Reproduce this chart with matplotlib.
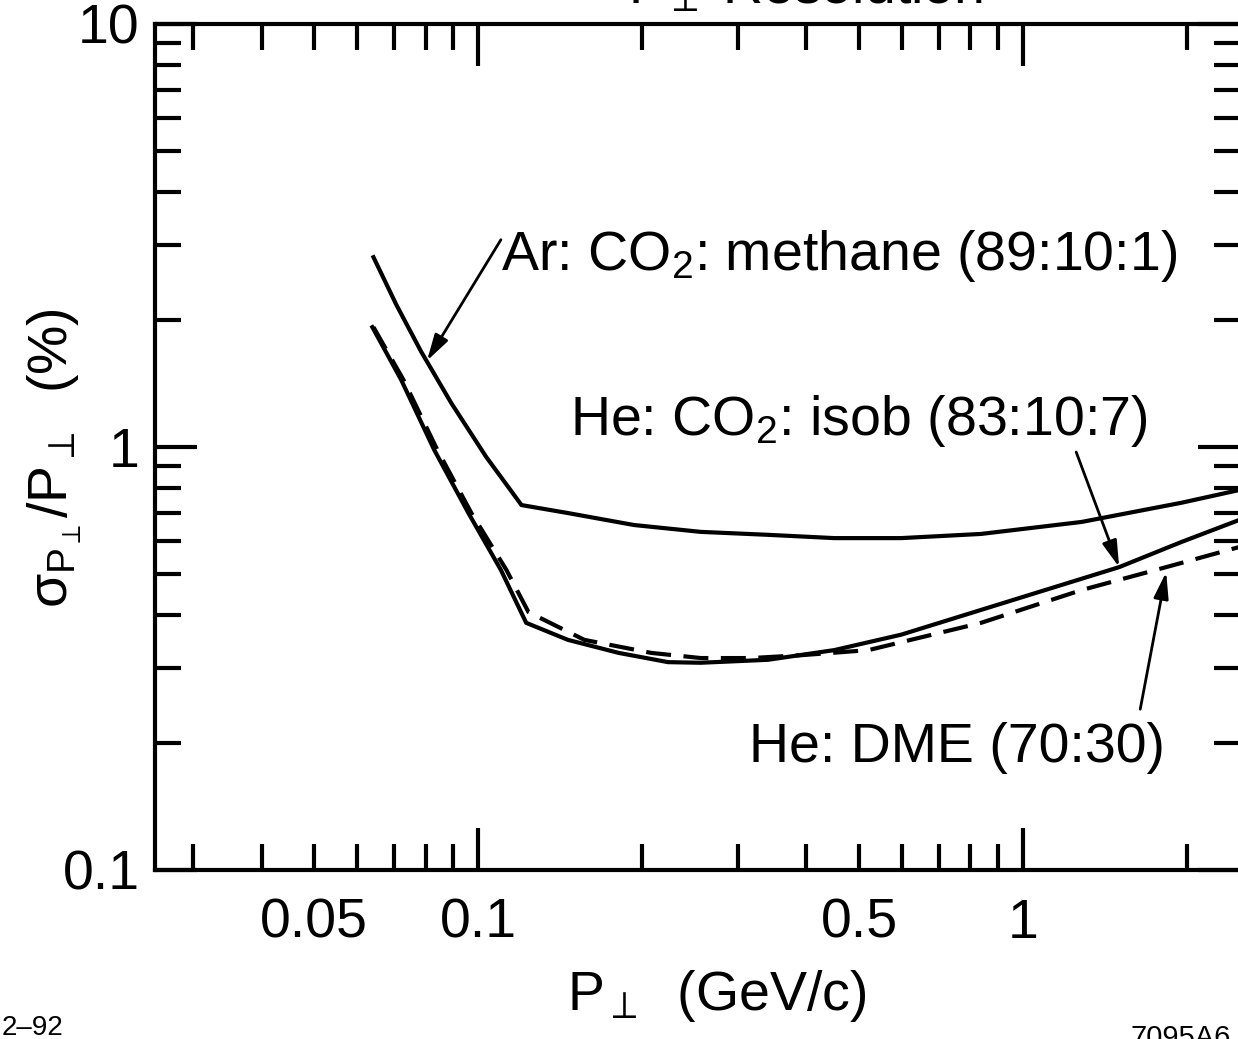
import matplotlib
matplotlib.use("Agg")
import matplotlib.pyplot as plt
from matplotlib.ticker import FixedLocator, FuncFormatter

plt.rcParams["font.family"] = ["Liberation Sans", "DejaVu Sans"]
plt.rcParams["mathtext.fontset"] = "custom"
plt.rcParams["mathtext.rm"] = "Liberation Sans"
plt.rcParams["mathtext.it"] = "Liberation Sans"
plt.rcParams["mathtext.bf"] = "Liberation Sans:bold"

# transverse momentum (GeV/c) and resolution (%)
p_ar = [0.0642, 0.0707, 0.0786, 0.0892, 0.1034, 0.120, 0.146, 0.193, 0.256,
        0.340, 0.450, 0.597, 0.837, 1.28, 1.95, 2.49]
s_ar = [2.81, 2.17, 1.677, 1.27, 0.947, 0.729, 0.698, 0.654, 0.630,
        0.620, 0.609, 0.609, 0.623, 0.665, 0.738, 0.791]

p_he = [0.0639, 0.0722, 0.0830, 0.0959, 0.110, 0.1224, 0.146, 0.181, 0.223,
        0.256, 0.340, 0.450, 0.597, 0.837, 1.50, 1.95, 2.49]
s_he = [1.92, 1.44, 0.984, 0.698, 0.512, 0.384, 0.350, 0.326, 0.310,
        0.309, 0.314, 0.331, 0.360, 0.412, 0.520, 0.596, 0.672]

p_dme = [0.0642, 0.0729, 0.0841, 0.0971, 0.1126, 0.1236, 0.1565, 0.2077, 0.256,
         0.317, 0.392, 0.520, 0.837, 1.28, 1.81, 2.49]
s_dme = [1.92, 1.44, 0.984, 0.698, 0.512, 0.407, 0.350, 0.326, 0.317,
         0.317, 0.322, 0.331, 0.384, 0.459, 0.518, 0.580]

labels = ["Ar: CO$_2$: methane (89:10:1)",
          "He: CO$_2$: isob (83:10:7)",
          "He: DME (70:30)"]

x_major = [0.1, 1]
x_minor = [0.03, 0.04, 0.05, 0.06, 0.07, 0.08, 0.09,
           0.2, 0.3, 0.4, 0.5, 0.6, 0.7, 0.8, 0.9, 2]
x_minor_labelled = [0.05, 0.5]

fig = plt.figure(figsize=(12.38, 10.39), dpi=100)
ax = fig.add_axes([155 / 1238, 1 - 870 / 1039, 1085 / 1238, 846 / 1039])

lw = 3
ax.plot(p_ar, s_ar, color="black", lw=lw)
ax.plot(p_he, s_he, color="black", lw=lw)
ax.plot(p_dme, s_dme, color="black", lw=lw, linestyle=(0, (6, 3)))

ax.set_xscale("log")
ax.set_yscale("log")
ax.set_xlim(0.0255, 2.5)
ax.set_ylim(0.1, 10)

ax.xaxis.set_major_locator(FixedLocator(x_major))
ax.xaxis.set_minor_locator(FixedLocator(x_minor))
ax.xaxis.set_major_formatter(FuncFormatter(lambda v, _: f"{v:g}"))
ax.xaxis.set_minor_formatter(FuncFormatter(
    lambda v, _: f"{v:g}" if any(abs(v - m) < 1e-9 for m in x_minor_labelled) else ""))
ax.yaxis.set_major_formatter(FuncFormatter(lambda v, _: f"{v:g}"))
ax.yaxis.set_minor_formatter(FuncFormatter(lambda v, _: ""))

ax.tick_params(which="both", direction="in", top=True, right=True, width=3,
               labelsize=40, colors="black")
ax.tick_params(which="major", length=30)
ax.tick_params(which="minor", length=19)
ax.tick_params(axis="x", which="both", pad=20)
ax.tick_params(axis="y", which="both", pad=11)
for sp in ax.spines.values():
    sp.set_linewidth(3)

fs = 40
ax.text(0.110, 2.62, labels[0], fontsize=fs, ha="left", va="baseline")
ax.text(0.147, 1.067, labels[1], fontsize=fs, ha="left", va="baseline")
ax.text(0.314, 0.180, labels[2], fontsize=fs, ha="left", va="baseline")

arrow = dict(arrowstyle="-|>,head_length=1.6,head_width=0.45", color="black",
             lw=2, shrinkA=0, shrinkB=0)
ax.annotate("", xy=(0.0805, 1.60), xytext=(0.110, 3.09), arrowprops=arrow)
ax.annotate("", xy=(1.50, 0.520), xytext=(1.251, 0.973), arrowprops=arrow)
ax.annotate("", xy=(1.83, 0.506), xytext=(1.64, 0.240), arrowprops=arrow)

fig.text(55 / 1238, 1 - 458 / 1039, r"$\sigma_{P_\perp}/P_\perp$  (%)",
         fontsize=fs, rotation=90, ha="center", va="center")
fig.text(717 / 1238, 1 - 1010 / 1039, r"P$_\perp$  (GeV/c)",
         fontsize=fs, ha="center", va="baseline")
fig.text(983 / 1238, 1 - 3 / 1039, r"P$_\perp$ Resolution",
         fontsize=fs, ha="right", va="baseline")
fig.text(2 / 1238, 1 - 1035 / 1039, "2–92", fontsize=20, ha="left", va="baseline")
fig.text(1130 / 1238, 1 - 1024 / 1039, "7095A6", fontsize=21, ha="left", va="top")

fig.savefig("out.png", dpi=100)
